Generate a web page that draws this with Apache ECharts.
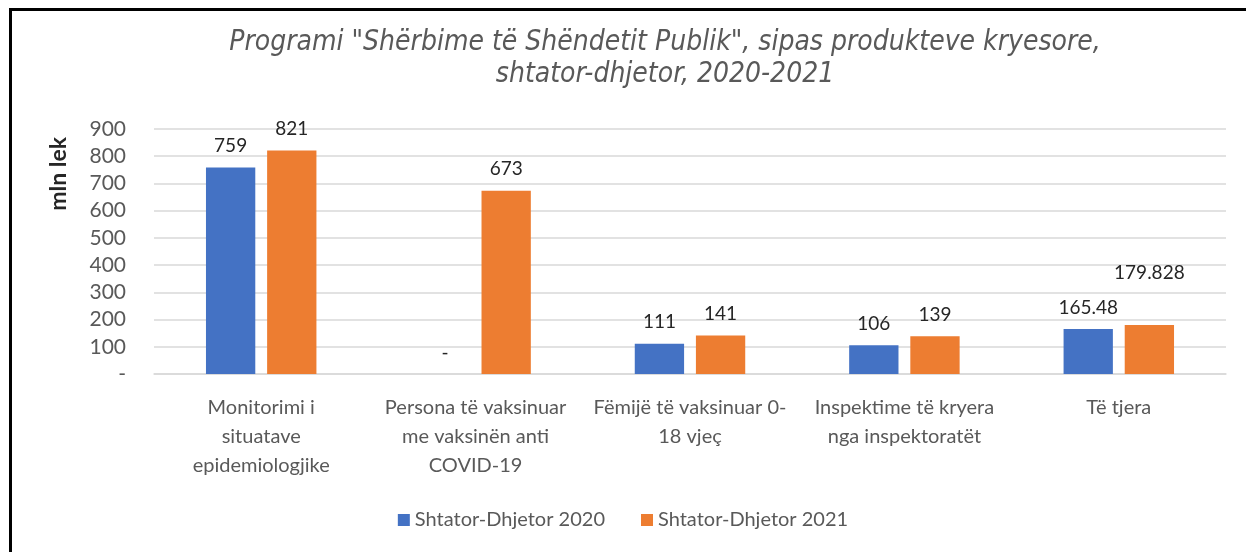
<!DOCTYPE html>
<html>
<head>
<meta charset="utf-8">
<script src="https://cdn.jsdelivr.net/npm/echarts@6/dist/echarts.min.js"></script>
<style>
html,body{margin:0;padding:0;background:#fff;}
#wrap{position:relative;width:1246px;height:552px;overflow:hidden;}
#frame{position:absolute;left:9px;top:8px;width:1300px;height:600px;border-left:3px solid #000;border-top:3px solid #000;box-sizing:border-box;pointer-events:none;z-index:2;}
#chart{position:absolute;left:0;top:0;width:1246px;height:552px;}
</style>
</head>
<body>
<div id="wrap"><div id="chart"></div><div id="frame"></div></div>
<script>
const titleText = 'Programi "Shërbime të Shëndetit Publik", sipas produkteve kryesore,\nshtator-dhjetor, 2020-2021';
const yAxisName = 'mln lek';
const categories = [
  'Monitorimi i\nsituatave\nepidemiologjike',
  'Persona të vaksinuar\nme vaksinën anti\nCOVID-19',
  'Fëmijë të vaksinuar 0-\n18 vjeç',
  'Inspektime të kryera\nnga inspektoratët',
  'Të tjera'
];
const seriesNames = ['Shtator-Dhjetor 2020', 'Shtator-Dhjetor 2021'];
const values2020 = [759, 0, 111, 106, 165.48];
const values2021 = [821, 673, 141, 139, 179.828];
const yTicks = [0, 100, 200, 300, 400, 500, 600, 700, 800, 900];

const FONT = 'Lato';
const labelStyle = {show:true, position:'top', distance:12, color:'#262626', fontFamily:FONT, fontSize:19,
  formatter: p => p.value === 0 ? '-' : String(p.value)};

const data2021 = values2021.map((v,i) => i === 4 ? {value:v, label:{offset:[0,-31]}} : v);

const chart = echarts.init(document.getElementById('chart'), null, {renderer:'canvas'});
chart.setOption({
  animation:false,
  backgroundColor:'#fff',
  title:{text:titleText, left:660, textAlign:'center', top:22,
    textStyle:{fontFamily:'DejaVu Sans Condensed', fontStyle:'italic', fontWeight:'normal', fontSize:28, color:'#595959', lineHeight:32}},
  graphic:[{type:'text', left:47, top:137, rotation:Math.PI/2,
    style:{text:yAxisName, fontFamily:FONT, fontWeight:'bold', fontSize:23, fill:'#262626'}}],
  legend:{data:seriesNames, top:505, left:'center', itemWidth:12, itemHeight:12, itemGap:36, icon:'rect',
    textStyle:{fontFamily:FONT, fontSize:20, color:'#595959'}},
  grid:{left:154, right:20, top:129, bottom:552-374, containLabel:false},
  xAxis:{type:'category', data:categories,
    axisLine:{show:true, lineStyle:{color:'#d9d9d9', width:1.5}}, axisTick:{show:false},
    axisLabel:{interval:0, margin:19, color:'#595959', fontFamily:FONT, fontSize:20, lineHeight:29}},
  yAxis:{type:'value', min:yTicks[0], max:yTicks[yTicks.length-1], interval:100,
    axisLine:{show:false}, axisTick:{show:false},
    splitLine:{lineStyle:{color:'#d9d9d9', width:1.5}},
    axisLabel:{margin:28, color:'#595959', fontFamily:FONT, fontSize:21, formatter:v => v === 0 ? '-' : v}},
  series:[
    {name:seriesNames[0], type:'bar', data:values2020, barWidth:'23%', barGap:'24%', itemStyle:{color:'#4472C4'}, label:labelStyle},
    {name:seriesNames[1], type:'bar', data:data2021, barWidth:'23%', itemStyle:{color:'#ED7D31'}, label:labelStyle}
  ]
});
</script>
</body>
</html>
